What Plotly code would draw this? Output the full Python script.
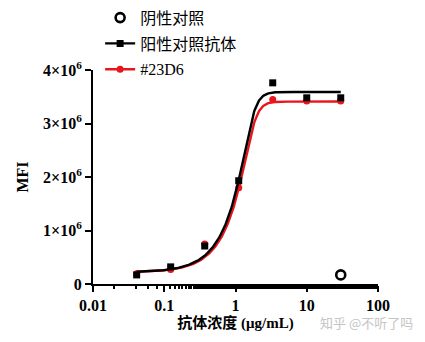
import numpy as np
import plotly.graph_objects as go

# Antibody concentrations (µg/mL), 3-fold dilution series
conc = [0.041, 0.123, 0.37, 1.11, 3.33, 10, 30]

# Mean fluorescence intensity
pos_ctrl_mfi = [0.17e6, 0.32e6, 0.71e6, 1.93e6, 3.76e6, 3.48e6, 3.48e6]
d23d6_mfi = [0.19e6, 0.27e6, 0.75e6, 1.80e6, 3.45e6, 3.42e6, 3.42e6]

neg_ctrl_conc = [30]
neg_ctrl_mfi = [0.17e6]

# Five-parameter logistic fit: bottom, top, inflection, Hill slope, asymmetry
pos_ctrl_fit = [0.22e6, 3.59e6, 1.68, 6.3, 0.25]
d23d6_fit = [0.22e6, 3.41e6, 1.73, 6.3, 0.25]

x_ticks = [0.01, 0.1, 1, 10, 100]
x_tick_text = ["<b>0.01</b>", "<b>0.1</b>", "<b>1</b>", "<b>10</b>", "<b>100</b>"]
y_ticks = [0, 1e6, 2e6, 3e6, 4e6]
y_tick_text = ["<b>0</b>", "<b>1×10<sup>6</sup></b>", "<b>2×10<sup>6</sup></b>",
               "<b>3×10<sup>6</sup></b>", "<b>4×10<sup>6</sup></b>"]

labels = ["阴性对照", "阳性对照抗体", "#23D6"]

SERIF = "Liberation Serif, Times New Roman, Noto Sans CJK SC, serif"
RED = "#e8161b"


def five_pl(x, p):
    bottom, top, c, hill, s = p
    return bottom + (top - bottom) / (1 + (c / x) ** hill) ** s


x_fit = np.logspace(np.log10(min(conc)), np.log10(max(conc)), 300)

fig = go.Figure()

# fitted curves and measured points (red first so black sits on top)
fig.add_trace(go.Scatter(x=x_fit, y=five_pl(x_fit, d23d6_fit), mode="lines",
                         line=dict(color=RED, width=2.4), showlegend=False))
fig.add_trace(go.Scatter(x=conc, y=d23d6_mfi, mode="markers",
                         marker=dict(symbol="circle", size=7, color=RED),
                         showlegend=False))
fig.add_trace(go.Scatter(x=x_fit, y=five_pl(x_fit, pos_ctrl_fit), mode="lines",
                         line=dict(color="black", width=2.4), showlegend=False))
fig.add_trace(go.Scatter(x=conc, y=pos_ctrl_mfi, mode="markers",
                         marker=dict(symbol="square", size=7, color="black"),
                         showlegend=False))
fig.add_trace(go.Scatter(x=neg_ctrl_conc, y=neg_ctrl_mfi, mode="markers",
                         marker=dict(symbol="circle-open", size=9, color="black",
                                     line=dict(width=2.6, color="black")),
                         showlegend=False))

# legend entries
fig.add_trace(go.Scatter(x=[None], y=[None], mode="markers", name=labels[0],
                         legendgroup="a",
                         marker=dict(symbol="circle-open", size=9, color="black",
                                     line=dict(width=2.6, color="black"))))
fig.add_trace(go.Scatter(x=[None], y=[None], mode="lines+markers", name=labels[1],
                         legendgroup="b",
                         line=dict(color="black", width=2.4),
                         marker=dict(symbol="square", size=7, color="black")))
fig.add_trace(go.Scatter(x=[None], y=[None], mode="lines+markers", name=labels[2],
                         legendgroup="c",
                         line=dict(color=RED, width=2.4),
                         marker=dict(symbol="circle", size=7, color=RED)))

fig.update_layout(
    width=425, height=342,
    margin=dict(l=93, r=47, t=70, b=58, autoexpand=False),
    plot_bgcolor="white", paper_bgcolor="white",
    font=dict(family=SERIF, color="black"),
    showlegend=True,
    legend=dict(x=0.025, y=0.998, xref="paper", yref="container",
                xanchor="left", yanchor="top",
                font=dict(size=16, family=SERIF, color="black"),
                tracegroupgap=2, bgcolor="rgba(0,0,0,0)", itemwidth=30),
    xaxis=dict(type="log", range=[-2, 2], tickvals=x_ticks, ticktext=x_tick_text,
               showline=True, linecolor="black", linewidth=2,
               ticks="outside", ticklen=6, tickwidth=2, tickcolor="black",
               showgrid=False, zeroline=False,
               tickfont=dict(size=16, family=SERIF),
               minor=dict(ticks="outside", ticklen=3, tickwidth=1.5,
                          tickcolor="black", showgrid=False),
               title=dict(text="<b>抗体浓度 (μg/mL)</b>", standoff=4,
                          font=dict(size=15, family=SERIF, weight="bold"))),
    yaxis=dict(range=[0, 4e6], tickvals=y_ticks, ticktext=y_tick_text,
               showline=True, linecolor="black", linewidth=2,
               ticks="outside", ticklen=6, tickwidth=2, tickcolor="black",
               showgrid=False, zeroline=False,
               tickfont=dict(size=16, family=SERIF),
               title=dict(text="MFI", standoff=10,
                          font=dict(size=16, family=SERIF, weight="bold"))),
)

fig.add_annotation(text="知乎 @不听了吗", xref="paper", yref="paper",
                   x=(366 - 93) / 285, y=-(322 - 284) / 214,
                   xanchor="center", yanchor="middle", showarrow=False,
                   font=dict(size=13, color="#c4c4c4",
                             family="Noto Sans CJK SC, sans-serif"))

fig.write_html("out.html")
